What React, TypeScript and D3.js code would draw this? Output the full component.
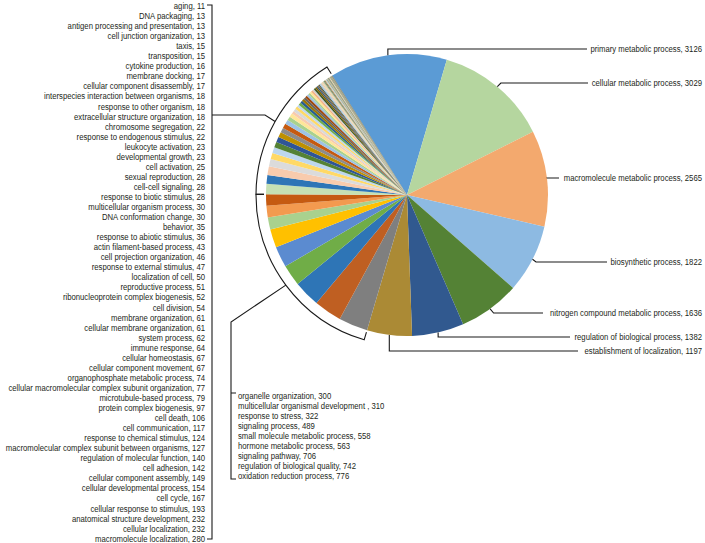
import React from 'react'
import * as d3 from 'd3'

// big slices, clockwise from the top-left
const bigLabels = [
  'primary metabolic process', 'cellular metabolic process', 'macromolecule metabolic process',
  'biosynthetic process', 'nitrogen compound metabolic process', 'regulation of biological process',
  'establishment of localization'
]
const bigValues = [3126, 3029, 2565, 1822, 1636, 1382, 1197]

// middle group, as listed (top to bottom)
const midLabels = [
  'organelle organization', 'multicellular organismal development ', 'response to stress',
  'signaling process', 'small molecule metabolic process', 'hormone metabolic process',
  'signaling pathway', 'regulation of biological quality', 'oxidation reduction process'
]
const midValues = [300, 310, 322, 489, 558, 563, 706, 742, 776]

// small group, as listed (top to bottom)
const smallLabels = [
  'aging', 'DNA packaging', 'antigen processing and presentation', 'cell junction organization',
  'taxis', 'transposition', 'cytokine production', 'membrane docking', 'cellular component disassembly',
  'interspecies interaction between organisms', 'response to other organism',
  'extracellular structure organization', 'chromosome segregation', 'response to endogenous stimulus',
  'leukocyte activation', 'developmental growth', 'cell activation', 'sexual reproduction',
  'cell-cell signaling', 'response to biotic stimulus', 'multicellular organism process',
  'DNA conformation change', 'behavior', 'response to abiotic stimulus', 'actin filament-based process',
  'cell projection organization', 'response to external stimulus', 'localization of cell',
  'reproductive process', 'ribonucleoprotein complex biogenesis', 'cell division',
  'membrane organization', 'cellular membrane organization', 'system process', 'immune response',
  'cellular homeostasis', 'cellular component movement', 'organophosphate metabolic process',
  'cellular macromolecular complex subunit organization', 'microtubule-based process',
  'protein complex biogenesis', 'cell death', 'cell communication', 'response to chemical stimulus',
  'macromolecular complex subunit between organisms', 'regulation of molecular function',
  'cell adhesion', 'cellular component assembly', 'cellular developmental process', 'cell cycle',
  'cellular response to stimulus', 'anatomical structure development', 'cellular localization',
  'macromolecule localization'
]
const smallValues = [
  11, 13, 13, 13, 15, 15, 16, 17, 17, 18, 18, 18, 22, 22, 23, 23, 25, 28, 28, 28, 30, 30, 35, 36,
  43, 46, 47, 50, 51, 52, 54, 61, 61, 62, 64, 67, 67, 74, 77, 79, 97, 106, 117, 124, 127, 140, 142,
  149, 154, 167, 193, 232, 232, 280
]

// colours in pie order
const bigColors = ['#5b9bd5', '#b5d69f', '#f3a96e', '#8dbae2', '#548235', '#31598f', '#ab8a35']
const midColors = ['#7f7f7f', '#bf5f22', '#2e75b6', '#70ad47', '#5b8bd0', '#ffc000', '#a9d18e', '#f39a4f', '#c55a11']
const smallColors = [
  '#c5e0b4', '#2e75b6', '#f8cbad', '#dbdbdb', '#ffd966', '#bdd7ee', '#548235', '#2f5597', '#bf9000',
  '#8c8c8c', '#c55a11', '#9dc3e6', '#a9d18e', '#ffe699', '#f8cbad', '#d9d9d9', '#ffd966', '#bdd7ee',
  '#70ad47', '#255e91', '#997300', '#636363', '#9e480e', '#9dc3e6', '#a9d18e', '#ffe699', '#f4b183',
  '#d0cece', '#375623', '#806000', '#3a5d7c', '#7f6545', '#4e5b3c', '#9dc3e6', '#c9c9c9', '#e2d3a8',
  '#f4ccac', '#b5c99a', '#6a7f5a', '#8a7650', '#d8c69a', '#a9c4d8', '#7a8e6a', '#c8b48a', '#94a58a',
  '#5b6e4e', '#b7a27a', '#e0d5b0', '#708060', '#a89870', '#6f7a5a', '#9aa080', '#807050', '#5e6b50'
]

// right-hand label layout
const bigLabelY = [49, 83, 178, 262, 313, 337, 351]
const bigLineEnd = [587, 588, 559, 607, 543, 570, 578]

const W = 705
const H = 543
const cx = 407
const cy = 195
const R = 141
const deg = Math.PI / 180
const FONT = '"Liberation Sans", Arial, sans-serif'
const SX = 0.86

const at = (r: number, a: number): [number, number] => [cx + r * Math.sin(a), cy - r * Math.cos(a)]

function bracket(a0: number, a1: number) {
  const p = d3.path()
  const r0 = 143, r1 = 151
  const s = at(r0, a0)
  const e = at(r1, a0)
  p.moveTo(s[0], s[1])
  p.lineTo(e[0], e[1])
  p.arc(cx, cy, r1, a0 - Math.PI / 2, a1 - Math.PI / 2, false)
  const f = at(r0, a1)
  p.lineTo(f[0], f[1])
  return p.toString()
}

export default function App() {
  const values = [...bigValues, ...midValues.slice().reverse(), ...smallValues.slice().reverse()]
  const colors = [...bigColors, ...midColors, ...smallColors]
  const start = -32 * deg
  const arcs = d3.pie<number>().sort(null).value(d => d)
    .startAngle(start).endAngle(start + 2 * Math.PI)(values)
  const arc = d3.arc<d3.PieArcDatum<number>>().innerRadius(0).outerRadius(R)

  const nb = bigValues.length
  const nm = midValues.length
  const midA0 = arcs[nb].startAngle
  const midA1 = arcs[nb + nm - 1].endAngle
  const smA0 = arcs[nb + nm].startAngle
  const smA1 = arcs[arcs.length - 1].endAngle
  const midMid = at(151, (midA0 + midA1) / 2)
  const smMid = at(151, (smA0 + smA1) / 2)

  const textProps = { fontFamily: FONT, fontSize: 9, fill: '#231f20' }
  const lineProps = { fill: 'none', stroke: '#1a1a1a', strokeWidth: 1.1 }

  return (
    <svg width={W} height={H} style={{ position: 'absolute', left: 0, top: 0, background: '#fff' }}>
      <g transform={`translate(${cx},${cy})`}>
        {arcs.map((a, i) => (
          <path key={i} d={arc(a) || ''} fill={colors[i]} />
        ))}
      </g>

      {/* big slice leaders and labels */}
      {bigValues.map((v, i) => {
        const a = arcs[i]
        const m = (a.startAngle + a.endAngle) / 2
        const [x0, y0] = at(R, m)
        const y = bigLabelY[i]
        const d = `M${x0},${y0}L${Math.abs(y - y0) < 1.5 ? x0 : x0 + (Math.abs(Math.sin(m)) > 0.3 ? 3.5 * Math.sign(Math.sin(m)) * (Math.abs(Math.cos(m)) > 0.25 ? 1 : 0) : 0)},${y}L${bigLineEnd[i]},${y}`
        return (
          <g key={i}>
            <path d={d} {...lineProps} />
            <text transform={`translate(702,${y + 3}) scale(${SX},1)`} textAnchor="end" {...textProps}>
              {`${bigLabels[i]}, ${v}`}
            </text>
          </g>
        )
      })}

      {/* middle group */}
      <path d={bracket(midA0, midA1)} {...lineProps} />
      <path d={`M${midMid[0]},${midMid[1]}L231,322L231,479L236,479M231,393L236,393`} {...lineProps} />
      {midLabels.map((l, i) => (
        <text key={i} transform={`translate(238,${399 + i * 10}) scale(${SX},1)`} {...textProps}>
          {`${l}, ${midValues[i]}`}
        </text>
      ))}

      {/* small group */}
      <path d={bracket(smA0, smA1)} {...lineProps} />
      <path d={`M${smMid[0]},${smMid[1]}L265,115L212,115M207,5L212,5L212,539L207,539`} {...lineProps} />
      {smallLabels.map((l, i) => (
        <text key={i} transform={`translate(205,${9 + i * 10.05}) scale(${SX},1)`} textAnchor="end" {...textProps}>
          {`${l}, ${smallValues[i]}`}
        </text>
      ))}
    </svg>
  )
}
